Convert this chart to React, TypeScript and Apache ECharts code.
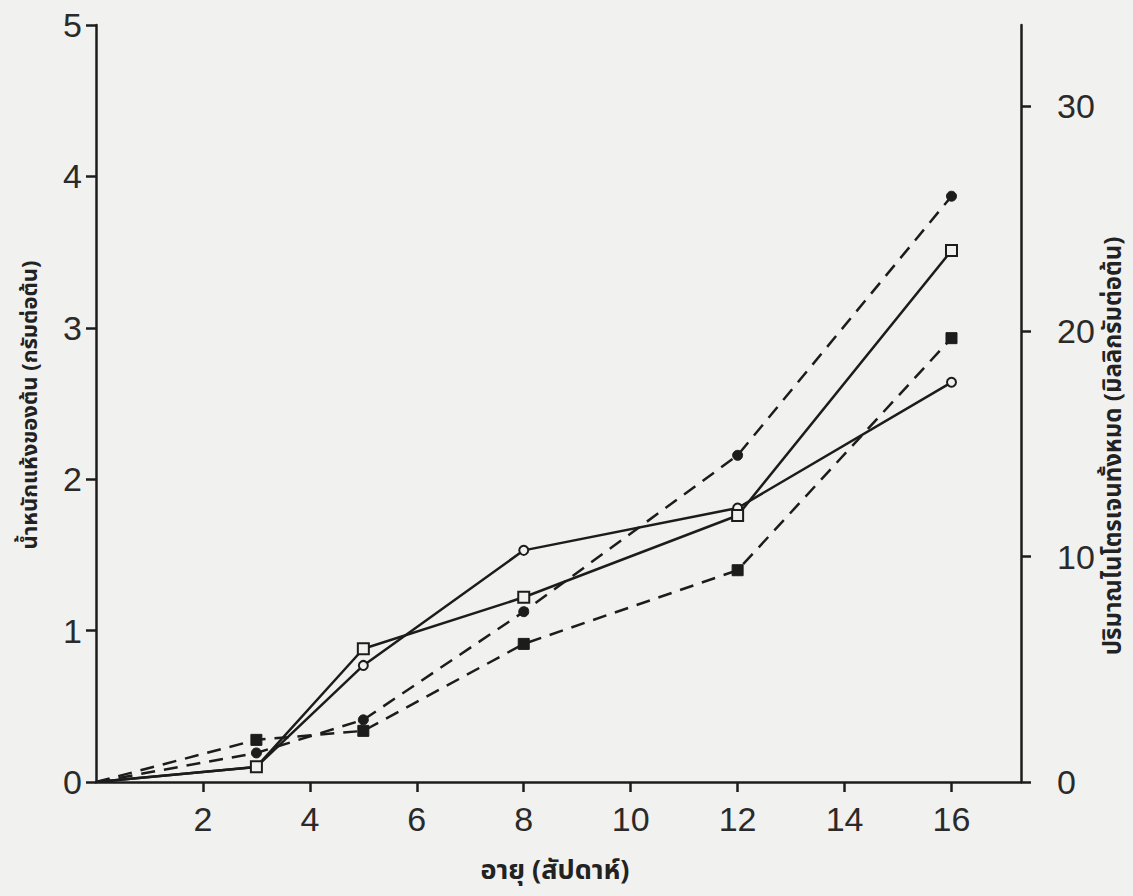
import React, { useEffect, useRef } from "react";
import * as echarts from "echarts";

const ages = [0, 3, 5, 8, 12, 16];
const dryWeightCircle = [0, 0.1, 0.77, 1.53, 1.81, 2.64];
const dryWeightSquare = [0, 0.1, 0.88, 1.22, 1.76, 3.51];
const nitrogenCircle = [0, 1.29, 2.76, 7.56, 14.5, 26.0];
const nitrogenSquare = [0, 1.87, 2.27, 6.13, 9.4, 19.7];
const xTicks = [2, 4, 6, 8, 10, 12, 14, 16];
const rightTicks = [0, 10, 20, 30];

const xName = "อายุ (สัปดาห์)";
const leftName = "น้ำหนักแห้งของต้น (กรัมต่อต้น)";
const rightName = "ปริมาณไนโตรเจนทั้งหมด (มิลลิกรัมต่อต้น)";

const INK = "#1c1c1c";
const BG = "#f1f1ef";
const NUM_FONT = "'Liberation Sans Narrow', 'Liberation Sans', sans-serif";
const THAI_FONT = "'Noto Sans Thai', 'Noto Sans', 'DejaVu Sans', sans-serif";

function pairs(xs: number[], ys: number[]) {
  // the origin is where every line starts; it carries no marker
  return xs.map((x, i) =>
    x === 0 ? { value: [x, ys[i]], symbol: "none" } : { value: [x, ys[i]] }
  );
}

export default function App() {
  const ref = useRef<HTMLDivElement>(null);
  useEffect(() => {
    if (!ref.current) return;
    const chart = echarts.init(ref.current, undefined, { renderer: "svg" });
    const numLabel = { color: "#2a2a2a", fontFamily: NUM_FONT, fontSize: 34 };
    const axisLine = { show: true, lineStyle: { color: INK, width: 2.5 } };
    const tick = { show: true, inside: false, length: 10, lineStyle: { color: INK, width: 2.5 } };
    const openItem = { color: BG, borderColor: INK, borderWidth: 2 };
    const fillItem = { color: INK, borderColor: INK, borderWidth: 1 };
    chart.setOption({
      animation: false,
      backgroundColor: BG,
      grid: { left: 96, right: 112, top: 25, bottom: 114, containLabel: false },
      xAxis: {
        type: "value",
        min: 0,
        max: 17.3,
        axisLine,
        axisTick: { ...tick, customValues: xTicks },
        axisLabel: { ...numLabel, margin: 20, customValues: xTicks },
        splitLine: { show: false },
      },
      yAxis: [
        {
          type: "value",
          min: 0,
          max: 5,
          interval: 1,
          axisLine,
          axisTick: tick,
          axisLabel: { ...numLabel, margin: 14 },
          splitLine: { show: false },
        },
        {
          type: "value",
          min: 0,
          max: 33.6,
          position: "right",
          axisLine,
          axisTick: { ...tick, customValues: rightTicks },
          axisLabel: { ...numLabel, margin: 36, customValues: rightTicks },
          splitLine: { show: false },
        },
      ],
      graphic: [
        {
          type: "text",
          x: 30,
          y: 405,
          rotation: Math.PI / 2,
          style: {
            text: leftName,
            font: `bold 22px ${THAI_FONT}`,
            fill: "#222",
            align: "center",
            verticalAlign: "middle",
          },
        },
        {
          type: "text",
          x: 1114,
          y: 446,
          rotation: Math.PI / 2,
          style: {
            text: rightName,
            font: `bold 24px ${THAI_FONT}`,
            fill: "#222",
            align: "center",
            verticalAlign: "middle",
          },
        },
        {
          type: "text",
          x: 555,
          y: 870,
          style: {
            text: xName,
            font: `bold 27px ${THAI_FONT}`,
            fill: "#222",
            align: "center",
            verticalAlign: "middle",
          },
        },
      ],
      series: [
        {
          type: "line",
          yAxisIndex: 0,
          data: pairs(ages, dryWeightCircle),
          symbol: "circle",
          symbolSize: 9,
          lineStyle: { color: INK, width: 2.5, type: "solid" },
          itemStyle: openItem,
        },
        {
          type: "line",
          yAxisIndex: 0,
          data: pairs(ages, dryWeightSquare),
          symbol: "rect",
          symbolSize: 11,
          lineStyle: { color: INK, width: 2.5, type: "solid" },
          itemStyle: openItem,
        },
        {
          type: "line",
          yAxisIndex: 1,
          data: pairs(ages, nitrogenCircle),
          symbol: "circle",
          symbolSize: 10,
          lineStyle: { color: INK, width: 2.5, type: [14, 9] },
          itemStyle: fillItem,
        },
        {
          type: "line",
          yAxisIndex: 1,
          data: pairs(ages, nitrogenSquare),
          symbol: "rect",
          symbolSize: 11,
          lineStyle: { color: INK, width: 2.5, type: [14, 9] },
          itemStyle: fillItem,
        },
      ],
    });
    return () => chart.dispose();
  }, []);
  return (
    <div
      ref={ref}
      style={{ position: "absolute", left: 0, top: 0, width: 1133, height: 896 }}
    />
  );
}
